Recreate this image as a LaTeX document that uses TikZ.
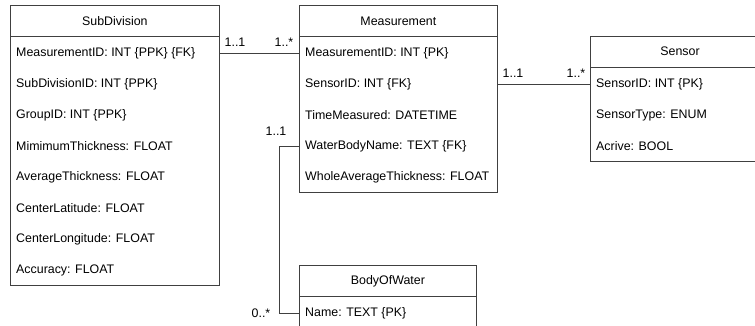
\documentclass[tikz,border=0pt]{standalone}
\usepackage{fontspec}
\setmainfont{Liberation Sans}
\begin{document}
\begin{tikzpicture}[x=1pt,y=-1pt,
  every node/.style={font=\fontsize{12.4}{14}\selectfont, text=black},
  hdr/.style={draw=black!75, line width=0.8pt, rectangle, anchor=north west, inner sep=0pt, fill=white},
  tbody/.style={draw=black!75, line width=0.8pt, rectangle, anchor=north west, inner sep=0pt},
  row/.style={anchor=west, inner sep=0pt},
  conn/.style={draw=black!75, line width=0.8pt},
  mult/.style={inner sep=0pt}
]
\useasboundingbox (0,0) rectangle (755,326);
\clip (0,0) rectangle (755,326);
% SubDivision
\node[hdr, minimum width=209pt, minimum height=31pt] (subh) at (10,5) {SubDivision};
\node[tbody, minimum width=209pt, minimum height=249pt] (subb) at (10,36) {};
\node[row] (sub1) at (16,53) {MeasurementID: INT \{PPK\} \{FK\}};
\node[row] (sub2) at (16,84) {SubDivisionID: INT \{PPK\}};
\node[row] (sub3) at (16,115) {GroupID: INT \{PPK\}};
\node[row] (sub4) at (16,146) {MimimumThickness: FLOAT};
\node[row] (sub5) at (16,177) {AverageThickness: FLOAT};
\node[row] (sub6) at (16,208) {CenterLatitude: FLOAT};
\node[row] (sub7) at (16,239) {CenterLongitude: FLOAT};
\node[row] (sub8) at (16,270) {Accuracy: FLOAT};
% Measurement
\node[hdr, minimum width=198pt, minimum height=31pt] (meash) at (299,5) {Measurement};
\node[tbody, minimum width=198pt, minimum height=156pt] (measb) at (299,36) {};
\node[row] (meas1) at (305,53) {MeasurementID: INT \{PK\}};
\node[row] (meas2) at (305,84) {SensorID: INT \{FK\}};
\node[row] (meas3) at (305,115) {TimeMeasured: DATETIME};
\node[row] (meas4) at (305,146) {WaterBodyName: TEXT \{FK\}};
\node[row] (meas5) at (305,177) {WholeAverageThickness: FLOAT};
% Sensor
\node[hdr, minimum width=180pt, minimum height=31pt] (senh) at (590,36) {};
\node[mult] (sentitle) at (680,51.5) {Sensor};
\node[tbody, minimum width=180pt, minimum height=94pt] (senb) at (590,67) {};
\node[row] (sen1) at (596,84) {SensorID: INT \{PK\}};
\node[row] (sen2) at (596,115) {SensorType: ENUM};
\node[row] (sen3) at (596,146) {Acrive: BOOL};
% BodyOfWater
\node[hdr, minimum width=177pt, minimum height=31pt] (bowh) at (299,265) {BodyOfWater};
\node[tbody, minimum width=177pt, minimum height=60pt] (bowb) at (299,296) {};
\node[row] (bow1) at (305,313) {Name: TEXT \{PK\}};
% connectors
\draw[conn] (sub1 -| subb.east) -- (meas1 -| measb.west);
\draw[conn] (meas2 -| measb.east) -- (sen1 -| senb.west);
\coordinate (bend) at (279,0);
\draw[conn] (meas4 -| measb.west) -- (meas4 -| bend) -- (bow1 -| bend) -- (bow1 -| bowb.west);
% multiplicities
\node[mult] (m1) at (235,42) {1..1};
\node[mult] (m2) at (284,42) {1..*};
\node[mult] (m3) at (513,73) {1..1};
\node[mult] (m4) at (576,73) {1..*};
\node[mult] (m5) at (276,131) {1..1};
\node[mult] (m6) at (261,313) {0..*};
\end{tikzpicture}
\end{document}
